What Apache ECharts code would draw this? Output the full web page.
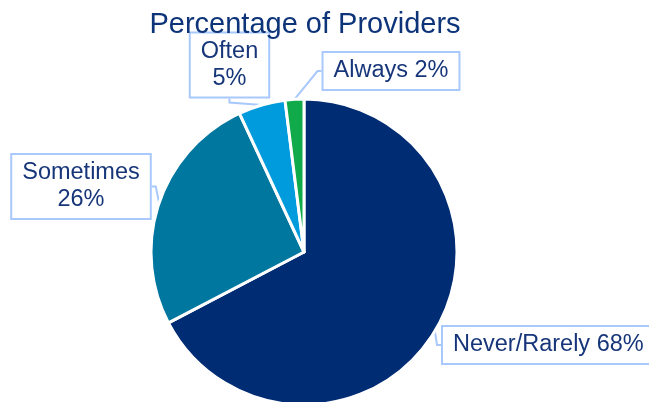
<!DOCTYPE html>
<html>
<head>
<meta charset="utf-8">
<script src="https://cdn.jsdelivr.net/npm/echarts@6/dist/echarts.min.js"></script>
<style>
  html, body { margin: 0; padding: 0; background: #fff; }
  #chart { width: 649px; height: 402px; }
</style>
</head>
<body>
<div id="chart"></div>
<script>
// Share of providers by response frequency
const categories = ['Never/Rarely', 'Sometimes', 'Often', 'Always'];
const percentages = [68, 26, 5, 2];
const sliceColors = ['#002c73', '#00779f', '#009bdd', '#10aa4a'];

// Callout label text: some categories wrap onto two lines
const labelTexts = ['Never/Rarely 68%', 'Sometimes\n26%', 'Often\n5%', 'Always 2%'];

// Callout box placement (anchor x/y, alignment, right padding)
const calloutPlacement = [
  { x: 443, y: 345, align: 'left', padRight: 16 },
  { x: 81, y: 186.5, align: 'center', padRight: 10 },
  { x: 229.5, y: 65, align: 'center', padRight: 10 },
  { x: 391, y: 71, align: 'center', padRight: 10 }
];

const chart = echarts.init(document.getElementById('chart'), null, { renderer: 'canvas' });

chart.setOption({
  animation: false,
  title: {
    text: 'Percentage of Providers',
    left: 300,
    top: 5,
    textAlign: 'center',
    textStyle: {
      fontFamily: 'Liberation Sans, Arial, sans-serif',
      fontSize: 29,
      fontWeight: 'normal',
      color: '#0d3379'
    }
  },
  series: [{
    type: 'pie',
    center: [304, 252],
    radius: [0, 153],
    startAngle: 90,
    clockwise: true,
    avoidLabelOverlap: false,
    itemStyle: { borderColor: '#ffffff', borderWidth: 3 },
    data: categories.map((name, i) => ({
      name,
      value: percentages[i],
      itemStyle: { color: sliceColors[i] },
      label: {
        formatter: labelTexts[i],
        padding: [5, calloutPlacement[i].padRight, 4, 10]
      }
    })),
    label: {
      show: true,
      position: 'outside',
      fontFamily: 'Liberation Sans, Arial, sans-serif',
      fontSize: 23.5,
      lineHeight: 27,
      color: '#17367a',
      align: 'center',
      backgroundColor: '#ffffff',
      borderColor: '#a9c8fb',
      borderWidth: 2
    },
    labelLine: {
      show: true,
      length: 4,
      length2: 4,
      lineStyle: { color: '#a9c8fb', width: 2 }
    },
    labelLayout: function (params) {
      const p = calloutPlacement[params.dataIndex];
      return { x: p.x, y: p.y, align: p.align, verticalAlign: 'middle' };
    }
  }]
});
</script>
</body>
</html>
